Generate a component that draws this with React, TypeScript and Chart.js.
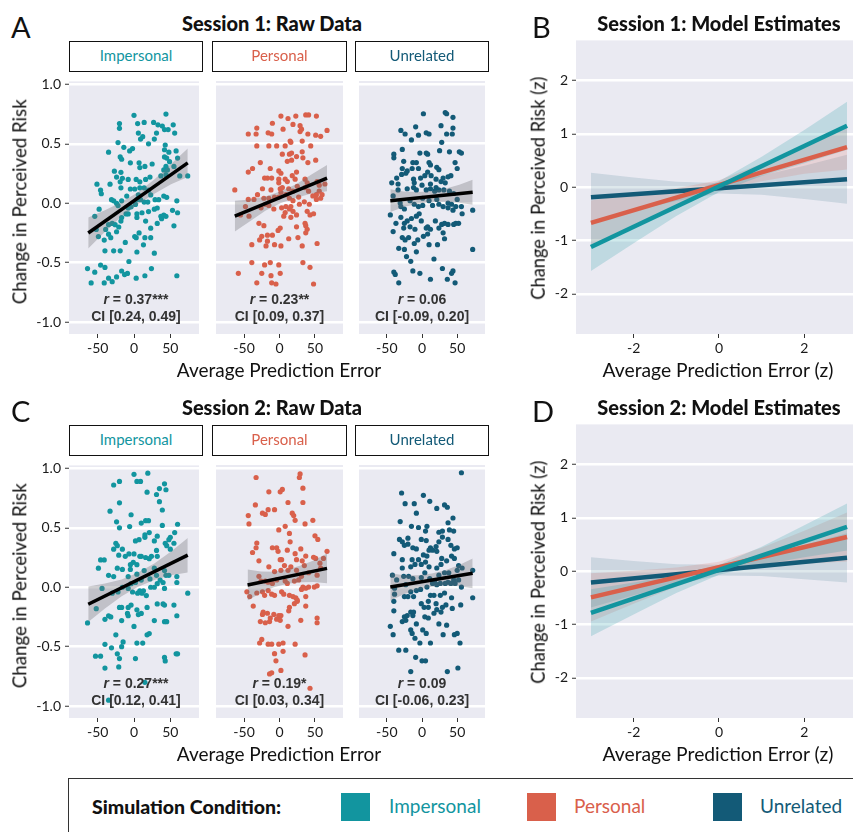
import React, { useEffect, useRef } from "react";
import { Chart, registerables } from "chart.js";
Chart.register(...registerables);

type P = [number, number];

// ---------- categories / ticks ----------
const conditions = ["Impersonal", "Personal", "Unrelated"];
const rawTicksX = [-50, 0, 50];
const rawTicksY = [-1, -0.5, 0, 0.5, 1];
const modelTicksX = [-2, 0, 2];
const modelTicksY = [-2, -1, 0, 1, 2];

// ---------- Session 1 raw data (prediction error, change in perceived risk) ----------
const s1Impersonal: P[] = [[0,0.74],[44,0.75],[-20,0.67],[-20,0.63],[5,0.67],[14,0.68],[27,0.68],[33,0.66],[39,0.65],[47,0.62],[54,0.66],[56,0.59],[6,0.59],[9,0.54],[12,0.56],[31,0.59],[28,0.54],[42,0.62],[20,0.50],[-22,0.51],[-35,0.43],[-14,0.47],[-6,0.44],[-2,0.46],[-19,0.39],[-17,0.37],[-5,0.34],[7,0.34],[8,0.30],[15,0.31],[43,0.49],[42,0.45],[48,0.43],[58,0.44],[42,0.39],[45,0.38],[49,0.35],[60,0.38],[63,0.23],[74,0.23],[55,0.31],[44,0.31],[41,0.28],[46,0.28],[44,0.24],[37,0.23],[25,0.33],[22,0.22],[16,0.20],[8,0.18],[3,0.20],[-8,0.20],[-16,0.21],[-18,0.26],[-27,0.27],[-24,0.22],[-19,0.18],[-18,0.13],[-33,0.16],[-46,0.11],[-45,0.08],[-51,0.16],[-31,0.03],[-28,0.02],[-24,0.00],[-22,-0.02],[-17,0.02],[-10,0.06],[-5,0.12],[1,0.12],[8,0.13],[14,0.13],[20,0.11],[23,0.07],[29,0.03],[34,0.03],[41,0.06],[45,0.05],[59,0.02],[6,0.07],[4,0.03],[9,0.03],[14,0.01],[19,0.01],[2,-0.01],[-4,-0.03],[-8,-0.04],[-11,-0.09],[-8,-0.09],[-17,-0.12],[-18,-0.15],[-30,-0.17],[-26,-0.18],[-21,-0.20],[-35,-0.18],[-39,-0.22],[-54,-0.11],[-48,-0.05],[4,-0.09],[4,-0.12],[11,-0.08],[20,-0.07],[28,-0.05],[32,-0.04],[37,-0.11],[41,-0.10],[44,-0.11],[38,-0.13],[53,-0.06],[60,-0.08],[55,-0.19],[32,-0.17],[16,-0.15],[23,-0.21],[7,-0.25],[1,-0.28],[3,-0.29],[15,-0.29],[23,-0.29],[13,-0.35],[28,-0.42],[-12,-0.33],[-24,-0.24],[-35,-0.26],[-32,-0.29],[-41,-0.31],[-49,-0.28],[-52,-0.22],[-40,-0.40],[-28,-0.40],[-19,-0.40],[4,-0.41],[-7,-0.49],[-46,-0.52],[-40,-0.54],[-54,-0.58],[-64,-0.55],[-59,-0.67],[-41,-0.67],[-35,-0.63],[-30,-0.66],[-24,-0.62],[-17,-0.57],[-13,-0.60],[-9,-0.59],[3,-0.63],[15,-0.61],[24,-0.55],[59,-0.61]];

const s1Personal: P[] = [[2,0.73],[12,0.71],[23,0.73],[37,0.74],[41,0.74],[52,0.73],[-10,0.67],[-32,0.63],[-44,0.58],[-33,0.58],[-16,0.59],[-11,0.58],[5,0.62],[19,0.66],[29,0.65],[31,0.62],[40,0.58],[29,0.60],[32,0.52],[15,0.52],[16,0.51],[8,0.48],[-4,0.48],[-15,0.48],[-32,0.48],[44,0.48],[51,0.57],[58,0.56],[67,0.61],[4,0.41],[14,0.41],[17,0.42],[17,0.36],[11,0.35],[24,0.39],[32,0.43],[33,0.38],[40,0.34],[51,0.36],[-27,0.34],[-38,0.29],[-44,0.26],[-13,0.29],[-1,0.27],[2,0.25],[-17,0.21],[-21,0.21],[-11,0.21],[-1,0.20],[-1,0.17],[8,0.20],[11,0.18],[18,0.23],[22,0.20],[24,0.26],[36,0.20],[39,0.17],[53,0.18],[56,0.15],[64,0.16],[56,0.10],[60,0.07],[58,0.04],[52,0.07],[47,0.06],[52,0.03],[-63,0.11],[-24,0.12],[-12,0.11],[1,0.12],[4,0.13],[2,0.09],[13,0.12],[19,0.10],[25,0.14],[36,0.13],[41,0.10],[-31,0.07],[-36,0.03],[-44,0.03],[-22,0.04],[-15,0.04],[-7,0.05],[-1,0.05],[9,0.07],[14,0.04],[19,0.02],[27,0.05],[35,0.01],[42,-0.01],[28,-0.01],[16,-0.03],[9,-0.03],[8,-0.08],[14,-0.05],[19,-0.07],[-15,-0.02],[-20,-0.01],[-26,-0.04],[-8,-0.05],[3,-0.04],[-48,-0.03],[-55,-0.10],[-43,-0.11],[39,-0.07],[43,-0.10],[48,-0.09],[6,-0.11],[16,-0.12],[24,-0.10],[-29,-0.17],[-22,-0.19],[1,-0.21],[-2,-0.23],[-10,-0.27],[-17,-0.27],[-25,-0.28],[-28,-0.31],[-17,-0.32],[-39,-0.35],[-19,-0.36],[-7,-0.35],[2,-0.36],[13,-0.30],[26,-0.29],[24,-0.20],[36,-0.17],[37,-0.19],[39,-0.22],[37,-0.25],[32,-0.36],[53,-0.34],[-39,-0.50],[-21,-0.52],[-13,-0.50],[-1,-0.52],[33,-0.50],[43,-0.54],[-58,-0.59],[-25,-0.59],[-12,-0.61],[1,-0.59],[-32,-0.67],[-11,-0.67],[-5,-0.68],[48,-0.68]];

const s1Unrelated: P[] = [[2,0.75],[33,0.76],[35,0.75],[44,0.72],[-9,0.64],[27,0.65],[44,0.63],[-30,0.61],[-24,0.58],[-5,0.57],[6,0.59],[10,0.58],[35,0.58],[43,0.58],[-15,0.53],[28,0.51],[-40,0.41],[-40,0.38],[-28,0.45],[-3,0.42],[6,0.42],[8,0.41],[25,0.44],[39,0.43],[53,0.43],[56,0.42],[-26,0.35],[-13,0.34],[-8,0.34],[10,0.34],[12,0.32],[21,0.30],[24,0.28],[47,0.34],[50,0.29],[-28,0.29],[-21,0.27],[-14,0.29],[-5,0.29],[-23,0.25],[-29,0.24],[-36,0.21],[-12,0.20],[-11,0.17],[-2,0.21],[8,0.26],[4,0.23],[13,0.23],[20,0.20],[30,0.21],[37,0.22],[41,0.23],[33,0.17],[-43,0.17],[-34,0.16],[-12,0.13],[-8,0.11],[0,0.15],[12,0.16],[20,0.13],[27,0.18],[39,0.10],[-34,0.11],[-21,0.12],[6,0.11],[12,0.12],[18,0.10],[24,0.11],[31,0.11],[45,0.08],[50,0.03],[-41,0.06],[-31,0.00],[-17,0.02],[-11,-0.01],[1,0.04],[10,0.02],[21,0.03],[24,-0.01],[37,0.00],[42,-0.01],[48,-0.03],[56,-0.03],[-45,-0.10],[-30,-0.03],[-25,-0.05],[-5,-0.03],[1,-0.02],[15,-0.02],[30,-0.03],[37,-0.04],[44,-0.06],[57,-0.09],[72,-0.06],[-37,-0.17],[-30,-0.12],[-25,-0.17],[-21,-0.15],[-15,-0.13],[-8,-0.11],[-4,-0.09],[-1,-0.15],[8,-0.20],[6,-0.21],[12,-0.22],[19,-0.15],[28,-0.18],[32,-0.17],[37,-0.18],[45,-0.18],[48,-0.17],[52,-0.17],[-41,-0.24],[-26,-0.21],[-17,-0.20],[-10,-0.22],[24,-0.21],[30,-0.25],[8,-0.26],[-28,-0.29],[-24,-0.31],[-19,-0.29],[-11,-0.34],[-6,-0.31],[2,-0.28],[10,-0.35],[22,-0.35],[32,-0.30],[-33,-0.38],[-25,-0.39],[-22,-0.45],[-8,-0.41],[17,-0.47],[-16,-0.49],[-40,-0.58],[-38,-0.60],[-33,-0.67],[-13,-0.57],[-3,-0.59],[12,-0.64],[29,-0.55],[36,-0.64],[42,-0.59],[44,-0.57],[47,-0.67],[72,-0.39]];

// ---------- Session 2 raw data ----------
const s2Impersonal: P[] = [[0,0.95],[19,0.96],[4,0.89],[9,0.89],[-28,0.86],[-20,0.89],[-20,0.71],[18,0.80],[35,0.83],[42,0.87],[44,0.82],[31,0.78],[35,0.72],[39,0.65],[-33,0.64],[-4,0.61],[16,0.56],[20,0.56],[-24,0.55],[-20,0.50],[-6,0.51],[10,0.54],[39,0.52],[60,0.53],[2,0.39],[7,0.40],[15,0.42],[21,0.46],[15,0.44],[28,0.39],[32,0.43],[43,0.37],[50,0.42],[48,0.40],[56,0.46],[50,0.32],[45,0.35],[55,0.37],[-25,0.37],[-23,0.35],[-28,0.32],[-16,0.32],[-21,0.27],[-7,0.28],[0,0.28],[-1,0.21],[4,0.19],[-5,0.19],[-12,0.26],[8,0.26],[10,0.26],[16,0.25],[21,0.24],[24,0.26],[31,0.31],[32,0.26],[-46,0.23],[-41,0.23],[-49,0.16],[-23,0.16],[-16,0.15],[-5,0.15],[-35,0.10],[-28,0.09],[-8,0.09],[4,0.11],[14,0.14],[22,0.07],[28,0.16],[31,0.10],[42,0.14],[44,0.10],[48,0.10],[59,0.09],[59,0.04],[10,0.06],[2,0.04],[-4,0.03],[-8,-0.01],[-2,-0.04],[5,-0.05],[11,-0.05],[17,-0.07],[23,0.00],[28,0.00],[32,0.03],[36,0.06],[40,0.04],[42,-0.01],[-44,-0.01],[-16,0.00],[-22,-0.04],[-30,-0.05],[8,-0.03],[13,-0.03],[32,-0.14],[40,-0.14],[42,-0.15],[55,-0.15],[74,-0.05],[-20,-0.17],[-17,-0.17],[-8,-0.17],[-4,-0.15],[4,-0.19],[10,-0.22],[18,-0.17],[-8,-0.24],[-9,-0.22],[-35,-0.24],[-32,-0.25],[-40,-0.27],[-52,-0.18],[-64,-0.30],[-17,-0.28],[6,-0.23],[28,-0.28],[42,-0.29],[45,-0.29],[59,-0.24],[-25,-0.40],[0,-0.33],[18,-0.40],[21,-0.39],[-40,-0.48],[12,-0.47],[4,-0.47],[-15,-0.46],[-17,-0.50],[-31,-0.51],[-53,-0.58],[-46,-0.58],[-23,-0.56],[-20,-0.60],[2,-0.60],[42,-0.59],[43,-0.62],[58,-0.56],[60,-0.56],[-40,-0.68],[-21,-0.67],[15,-0.80],[-35,-0.95]];

const s2Personal: P[] = [[-33,0.92],[29,0.95],[28,0.92],[33,0.83],[-15,0.80],[1,0.80],[4,0.82],[-34,0.69],[12,0.71],[33,0.71],[-44,0.60],[-43,0.53],[-24,0.62],[-20,0.61],[-16,0.65],[-7,0.65],[18,0.62],[20,0.60],[22,0.56],[36,0.53],[47,0.56],[-1,0.48],[8,0.51],[14,0.45],[15,0.38],[54,0.40],[50,0.43],[-32,0.37],[-33,0.33],[-38,0.29],[-29,0.22],[-10,0.33],[-4,0.33],[-2,0.30],[11,0.31],[22,0.28],[24,0.23],[30,0.32],[32,0.22],[37,0.26],[48,0.25],[51,0.24],[67,0.30],[3,0.23],[1,0.23],[-15,0.17],[-7,0.13],[2,0.14],[7,0.18],[12,0.14],[16,0.17],[24,0.14],[31,0.09],[35,0.18],[41,0.12],[53,0.10],[57,0.20],[58,0.16],[62,0.24],[-29,0.09],[-26,0.05],[-20,0.05],[-16,0.04],[-10,0.03],[-4,0.06],[8,0.05],[11,0.03],[21,0.05],[27,0.06],[33,0.00],[37,-0.01],[41,0.00],[49,0.00],[53,0.01],[-46,-0.04],[-42,-0.08],[-32,-0.05],[-24,-0.04],[-21,-0.07],[-16,-0.03],[-11,-0.06],[-7,-0.07],[3,-0.04],[6,-0.06],[14,-0.07],[19,-0.08],[23,-0.09],[25,-0.11],[37,-0.08],[31,-0.02],[-37,-0.16],[14,-0.17],[21,-0.14],[25,-0.12],[37,-0.16],[-23,-0.21],[-24,-0.23],[-17,-0.22],[-8,-0.23],[-1,-0.24],[2,-0.24],[-13,-0.26],[13,-0.20],[-27,-0.29],[-20,-0.30],[-14,-0.29],[-4,-0.27],[1,-0.28],[30,-0.28],[53,-0.26],[53,-0.30],[12,-0.33],[-25,-0.44],[-28,-0.47],[-16,-0.48],[-11,-0.48],[-1,-0.48],[5,-0.47],[22,-0.48],[-7,-0.56],[5,-0.54],[36,-0.57],[-5,-0.62],[2,-0.70],[-11,-0.72],[-14,-0.73],[43,-0.85]];

const s2Unrelated: P[] = [[56,0.96],[-29,0.79],[-24,0.70],[-11,0.70],[2,0.77],[11,0.72],[-8,0.62],[21,0.66],[32,0.69],[36,0.67],[-31,0.55],[-15,0.51],[-5,0.50],[7,0.51],[5,0.47],[24,0.46],[29,0.47],[37,0.54],[44,0.58],[39,0.48],[45,0.47],[-32,0.40],[-28,0.38],[-20,0.41],[-25,0.35],[-20,0.36],[-13,0.33],[-8,0.32],[-1,0.40],[6,0.39],[12,0.33],[10,0.31],[20,0.34],[24,0.38],[29,0.42],[37,0.40],[41,0.35],[46,0.32],[50,0.33],[-40,0.28],[-28,0.23],[-14,0.23],[-5,0.23],[2,0.27],[7,0.26],[15,0.31],[21,0.30],[28,0.24],[35,0.22],[42,0.26],[46,0.24],[52,0.18],[57,0.16],[-28,0.16],[-16,0.17],[-10,0.19],[-1,0.19],[5,0.21],[10,0.17],[21,0.16],[27,0.19],[38,0.12],[50,0.14],[72,0.14],[-42,0.10],[-36,0.06],[-26,0.09],[-19,0.09],[-13,0.07],[-1,0.08],[4,0.12],[11,0.07],[18,0.04],[24,0.10],[32,0.12],[37,0.04],[45,0.06],[52,0.06],[-39,-0.01],[-23,0.02],[-16,-0.04],[-8,-0.03],[-2,-0.02],[7,0.00],[15,0.03],[21,0.02],[26,0.03],[33,0.03],[41,0.03],[47,0.03],[56,0.00],[-39,-0.06],[-25,-0.08],[-20,-0.08],[-12,-0.08],[12,-0.07],[17,-0.07],[26,-0.07],[32,-0.05],[42,-0.09],[72,-0.09],[-40,-0.12],[-1,-0.14],[9,-0.12],[20,-0.14],[29,-0.17],[34,-0.15],[43,-0.18],[55,-0.15],[-40,-0.20],[-16,-0.21],[-12,-0.21],[3,-0.17],[9,-0.17],[17,-0.22],[21,-0.19],[27,-0.21],[-25,-0.25],[-21,-0.24],[-13,-0.24],[4,-0.25],[9,-0.26],[-28,-0.29],[-23,-0.28],[-8,-0.31],[1,-0.36],[-16,-0.36],[-14,-0.39],[-10,-0.43],[6,-0.39],[24,-0.31],[35,-0.32],[30,-0.40],[46,-0.40],[50,-0.39],[-45,-0.33],[-41,-0.40],[-3,-0.47],[12,-0.47],[54,-0.47],[-33,-0.53],[-23,-0.53],[-9,-0.59],[0,-0.62],[5,-0.62],[-16,-0.71],[36,-0.71],[51,-0.68]];

// ---------- regression fits for raw facets ----------
const s1FitLines: P[][] = [[[-63, -0.25], [74, 0.34]], [[-63, -0.11], [67, 0.21]], [[-45, 0.02], [72, 0.09]]];
const s1BandX = [[-63, -40, -17, 5, 28, 51, 74], [-63, -41, -20, 2, 24, 45, 67], [-45, -26, -6, 14, 33, 53, 72]];
const s1BandHi = [[-0.12, -0.06, 0.01, 0.09, 0.2, 0.33, 0.46], [0.02, 0.03, 0.055, 0.1, 0.16, 0.24, 0.32], [0.115, 0.096, 0.093, 0.1, 0.121, 0.153, 0.195]];
const s1BandLo = [[-0.38, -0.24, -0.11, -0.01, 0.08, 0.16, 0.22], [-0.24, -0.15, -0.065, 0.0, 0.045, 0.08, 0.1], [-0.075, -0.034, -0.007, 0.01, 0.011, 0.003, -0.015]];

const s2FitLines: P[][] = [[[-63, -0.143], [74, 0.27]], [[-45, 0.017], [67, 0.157]], [[-45, 0.0], [72, 0.115]]];
const s2BandX = [[-63, -40, -17, 5, 28, 51, 74], [-45, -26, -8, 11, 30, 48, 67], [-45, -26, -6, 14, 33, 53, 72]];
const s2BandHi = [[0.007, 0.031, 0.065, 0.121, 0.2, 0.3, 0.415], [0.147, 0.131, 0.128, 0.147, 0.181, 0.223, 0.282], [0.115, 0.099, 0.098, 0.113, 0.142, 0.186, 0.24]];
const s2BandLo = [[-0.293, -0.179, -0.075, 0.001, 0.06, 0.1, 0.125], [-0.113, -0.049, -0.002, 0.027, 0.041, 0.043, 0.032], [-0.115, -0.061, -0.022, 0.003, 0.012, 0.006, -0.01]];

const s1R = ["0.37***", "0.23**", "0.06"];
const s1CI = ["[0.24, 0.49]", "[0.09, 0.37]", "[-0.09, 0.20]"];
const s2R = ["0.27***", "0.19*", "0.09"];
const s2CI = ["[0.12, 0.41]", "[0.03, 0.34]", "[-0.06, 0.23]"];

// ---------- model estimates ----------
const modelLineX = [-3, 3];
const modelBandX = [-3, -2, -1, 0, 1, 2, 3];
const s1ModelLine = [[-1.12, 1.15], [-0.67, 0.75], [-0.19, 0.15]];
const s1ModelHi = [[-0.67, -0.43, -0.18, 0.11, 0.57, 1.07, 1.6], [-0.25, -0.12, -0.02, 0.13, 0.44, 0.76, 1.17], [0.27, 0.18, 0.1, 0.08, 0.22, 0.4, 0.61]];
const s1ModelLo = [[-1.57, -1.05, -0.54, -0.09, 0.21, 0.45, 0.7], [-1.09, -0.74, -0.38, -0.05, 0.11, 0.25, 0.33], [-0.65, -0.44, -0.26, -0.12, -0.14, -0.22, -0.31]];
const s2ModelLine = [[-0.78, 0.83], [-0.49, 0.64], [-0.21, 0.25]];
const s2ModelHi = [[-0.34, -0.21, -0.07, 0.115, 0.46, 0.86, 1.27], [-0.04, 0.01, 0.07, 0.175, 0.44, 0.76, 1.1], [0.26, 0.19, 0.13, 0.12, 0.29, 0.49, 0.71]];
const s2ModelLo = [[-1.22, -0.81, -0.41, -0.065, 0.12, 0.26, 0.39], [-0.94, -0.61, -0.29, -0.025, 0.08, 0.14, 0.18], [-0.68, -0.45, -0.25, -0.08, -0.09, -0.15, -0.21]];

// ---------- styles ----------
const COLORS = ["#12959F", "#D9604B", "#135A77"];
const BAND_COLORS = ["rgba(18,149,159,0.2)", "rgba(217,96,75,0.16)", "rgba(19,90,119,0.14)"];
const PANEL_BG = "#EAEAF2";
const FONT = "Lato, 'Open Sans', sans-serif";
const STAT_FONT = "'Liberation Sans', Arial, sans-serif";

const bgPlugin = {
  id: "panelBg",
  beforeDraw(chart: any) {
    const { ctx, chartArea } = chart;
    ctx.save();
    ctx.fillStyle = PANEL_BG;
    ctx.fillRect(chartArea.left, chartArea.top, chartArea.right - chartArea.left, chartArea.bottom - chartArea.top);
    ctx.restore();
  },
};

const zip = (xs: number[], ys: number[]) => xs.map((x, i) => ({ x, y: ys[i] }));

function axisX(min: number, max: number, ticks: number[], fmt: (v: number) => string) {
  return {
    type: "linear",
    min,
    max,
    afterBuildTicks: (s: any) => { s.ticks = ticks.map((v) => ({ value: v })); },
    afterFit: (s: any) => { s.height = 22; },
    grid: { drawOnChartArea: false, drawTicks: true, tickLength: 4, tickColor: "#333", tickWidth: 1 },
    border: { display: false },
    ticks: { font: { family: FONT, size: 14 }, color: "#1a1a1a", padding: 2, maxRotation: 0, callback: (v: any) => fmt(Number(v)) },
  };
}

function axisY(min: number, max: number, ticks: number[], fmt: (v: number) => string, show: boolean, width: number) {
  return {
    type: "linear",
    min,
    max,
    afterBuildTicks: (s: any) => { s.ticks = ticks.map((v) => ({ value: v })); },
    afterFit: (s: any) => { s.width = show ? width : 0; },
    grid: { color: "#ffffff", lineWidth: 2.5, drawTicks: show, tickLength: 4, tickColor: "#333", tickWidth: 1 },
    border: { display: false },
    ticks: { display: show, font: { family: FONT, size: 14 }, color: "#1a1a1a", padding: 4, callback: (v: any) => fmt(Number(v)) },
  };
}

function rawConfig(pts: P[], color: string, fit: P[], bx: number[], hi: number[], lo: number[], showY: boolean) {
  return {
    type: "scatter",
    data: {
      datasets: [
        { data: fit.map(([x, y]) => ({ x, y })), showLine: true, borderColor: "#000", borderWidth: 3.5, pointRadius: 0 },
        { data: zip(bx, hi), showLine: true, borderColor: "transparent", pointRadius: 0, fill: "+1", backgroundColor: "rgba(110,110,115,0.33)" },
        { data: zip(bx, lo), showLine: true, borderColor: "transparent", pointRadius: 0, fill: false },
        { data: pts.map(([x, y]) => ({ x, y })), pointRadius: 2.6, backgroundColor: color, borderWidth: 0 },
      ],
    },
    options: {
      animation: false,
      responsive: false,
      events: [],
      layout: { padding: { top: 12, left: 0, right: 0, bottom: 0 } },
      plugins: { legend: { display: false }, tooltip: { enabled: false } },
      scales: {
        x: axisX(-89.5, 89.5, rawTicksX, (v) => String(v)),
        y: axisY(-1.1, 1.025, rawTicksY, (v) => v.toFixed(1), showY, 39),
      },
    },
    plugins: [bgPlugin],
  };
}

function modelConfig(line: number[][], hi: number[][], lo: number[][]) {
  const lines = line.map((ys, i) => ({ data: zip(modelLineX, ys), showLine: true, borderColor: COLORS[i], borderWidth: 4.5, pointRadius: 0 }));
  const bands: any[] = [];
  hi.forEach((h, i) => {
    bands.push({ data: zip(modelBandX, h), showLine: true, borderColor: "transparent", pointRadius: 0, fill: "+1", backgroundColor: BAND_COLORS[i] });
    bands.push({ data: zip(modelBandX, lo[i]), showLine: true, borderColor: "transparent", pointRadius: 0, fill: false });
  });
  return {
    type: "scatter",
    data: { datasets: [...lines, ...bands] },
    options: {
      animation: false,
      responsive: false,
      events: [],
      layout: { padding: { top: 12, left: 0, right: 0, bottom: 0 } },
      plugins: { legend: { display: false }, tooltip: { enabled: false } },
      scales: {
        x: axisX(-3.35, 3.14, modelTicksX, (v) => String(v)),
        y: axisY(-2.75, 2.75, modelTicksY, (v) => String(v), true, 56),
      },
    },
    plugins: [bgPlugin],
  };
}

function ChartBox(props: { left: number; top: number; width: number; height: number; make: () => any }) {
  const ref = useRef<HTMLCanvasElement>(null);
  useEffect(() => {
    const chart = new Chart(ref.current as HTMLCanvasElement, props.make());
    return () => chart.destroy();
  }, []);
  return (
    <canvas
      ref={ref}
      width={props.width}
      height={props.height}
      style={{ position: "absolute", left: props.left, top: props.top, width: props.width, height: props.height }}
    />
  );
}

function CText(props: { cx: number; cy: number; size: number; weight?: number; color?: string; family?: string; children: any }) {
  const h = props.size * 2;
  return (
    <div
      style={{
        position: "absolute", left: props.cx - 250, top: props.cy - h / 2, width: 500, height: h, lineHeight: `${h}px`,
        textAlign: "center", fontSize: props.size, fontWeight: props.weight || 400, color: props.color || "#111",
        fontFamily: props.family || FONT, whiteSpace: "nowrap",
      }}
    >
      {props.children}
    </div>
  );
}

function LText(props: { x: number; cy: number; size: number; weight?: number; color?: string; children: any }) {
  const h = props.size * 2;
  return (
    <div
      style={{
        position: "absolute", left: props.x, top: props.cy - h / 2, height: h, lineHeight: `${h}px`,
        fontSize: props.size, fontWeight: props.weight || 400, color: props.color || "#111", fontFamily: FONT, whiteSpace: "nowrap",
      }}
    >
      {props.children}
    </div>
  );
}

function VText(props: { cx: number; cy: number; size: number; children: any }) {
  const h = props.size * 2;
  return (
    <div
      style={{
        position: "absolute", left: props.cx - 160, top: props.cy - h / 2, width: 320, height: h, lineHeight: `${h}px`,
        textAlign: "center", fontSize: props.size, color: "#111", fontFamily: FONT, whiteSpace: "nowrap",
        transform: "rotate(-90deg)",
      }}
    >
      {props.children}
    </div>
  );
}

const facetLeft = [30, 212, 355];
const facetWidth = [173, 135, 134];
const stripLeft = [69, 212, 355];
const stripWidth = [134, 135, 134];
const facetCenter = [136, 279.5, 422];

function RawRow(props: { dy: number; session: number; data: P[][]; fits: P[][]; bx: number[][]; hi: number[][]; lo: number[][]; rs: string[]; cis: string[]; letter: string }) {
  const { dy } = props;
  return (
    <>
      {props.data.map((pts, i) => (
        <ChartBox
          key={"c" + i}
          left={facetLeft[i]}
          top={69 + dy}
          width={facetWidth[i]}
          height={287}
          make={() => rawConfig(pts, COLORS[i], props.fits[i], props.bx[i], props.hi[i], props.lo[i], i === 0)}
        />
      ))}
      <LText x={11} cy={27 + dy} size={29}>{props.letter}</LText>
      <CText cx={272} cy={23 + dy} size={20} weight={900}>{`Session ${props.session}: Raw Data`}</CText>
      {conditions.map((c, i) => (
        <div
          key={"s" + i}
          style={{
            position: "absolute", left: stripLeft[i], top: 41 + dy, width: stripWidth[i], height: 31, boxSizing: "border-box",
            border: "1.8px solid #111", background: "#fff", textAlign: "center", lineHeight: "27px", fontSize: 15,
            color: COLORS[i], fontFamily: FONT,
          }}
        >
          {c}
        </div>
      ))}
      {props.rs.map((r, i) => (
        <React.Fragment key={"r" + i}>
          <CText cx={facetCenter[i]} cy={299 + dy} size={14} weight={700} color="#333" family={STAT_FONT}>
            <i>r</i>{` = ${r}`}
          </CText>
          <CText cx={facetCenter[i]} cy={316 + dy} size={14} weight={700} color="#333" family={STAT_FONT}>
            {`CI ${props.cis[i]}`}
          </CText>
        </React.Fragment>
      ))}
      <VText cx={19.5} cy={202 + dy} size={18.7}>Change in Perceived Risk</VText>
      <CText cx={279} cy={370 + dy} size={19}>Average Prediction Error</CText>
    </>
  );
}

function ModelPanel(props: { dy: number; session: number; line: number[][]; hi: number[][]; lo: number[][]; letter: string }) {
  const { dy } = props;
  return (
    <>
      <ChartBox left={520} top={28 + dy} width={333} height={328} make={() => modelConfig(props.line, props.hi, props.lo)} />
      <LText x={532} cy={27 + dy} size={29}>{props.letter}</LText>
      <CText cx={719} cy={23 + dy} size={20} weight={900}>{`Session ${props.session}: Model Estimates`}</CText>
      <VText cx={538} cy={188 + dy} size={18.3}>Change in Perceived Risk (z)</VText>
      <CText cx={718} cy={370 + dy} size={19.3}>Average Prediction Error (z)</CText>
    </>
  );
}

const legendSquareX = [341, 527, 713];
const legendLabelX = [389, 574, 760];

export default function App() {
  return (
    <div style={{ position: "absolute", left: 0, top: 0, width: 853, height: 832, overflow: "hidden", background: "#fff" }}>
      <RawRow dy={0} session={1} letter="A" data={[s1Impersonal, s1Personal, s1Unrelated]} fits={s1FitLines} bx={s1BandX} hi={s1BandHi} lo={s1BandLo} rs={s1R} cis={s1CI} />
      <ModelPanel dy={0} session={1} letter="B" line={s1ModelLine} hi={s1ModelHi} lo={s1ModelLo} />
      <RawRow dy={384} session={2} letter="C" data={[s2Impersonal, s2Personal, s2Unrelated]} fits={s2FitLines} bx={s2BandX} hi={s2BandHi} lo={s2BandLo} rs={s2R} cis={s2CI} />
      <ModelPanel dy={384} session={2} letter="D" line={s2ModelLine} hi={s2ModelHi} lo={s2ModelLo} />
      <div style={{ position: "absolute", left: 68, top: 778, width: 820, height: 80, boxSizing: "border-box", border: "1.5px solid #333" }} />
      <LText x={92} cy={806} size={19.5} weight={900}>Simulation Condition:</LText>
      {conditions.map((c, i) => (
        <React.Fragment key={"l" + i}>
          <div style={{ position: "absolute", left: legendSquareX[i], top: 793, width: 29, height: 28, background: COLORS[i] }} />
          <LText x={legendLabelX[i]} cy={806} size={19} color={COLORS[i]}>{c}</LText>
        </React.Fragment>
      ))}
    </div>
  );
}
